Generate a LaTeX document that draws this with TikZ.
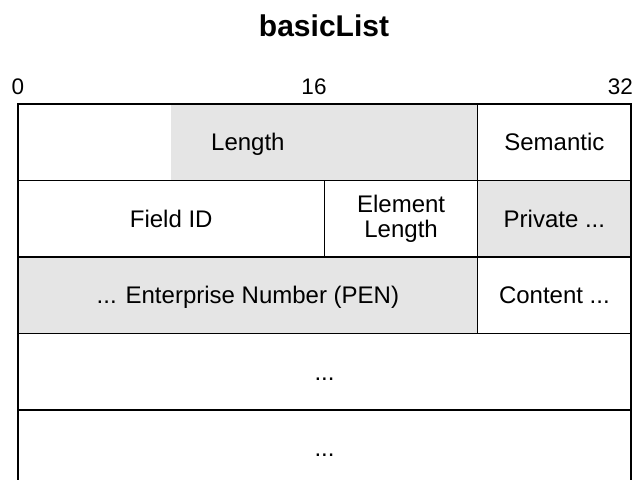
\documentclass[tikz,border=0pt]{standalone}
\usepackage{fontspec}
\setmainfont{Liberation Sans}

\begin{document}
\begin{tikzpicture}[x=1pt,y=-1pt]
\tikzstyle{field}=[rectangle,draw=black,line width=1.4pt,inner sep=0pt,minimum height=76.5pt,font=\fontsize{24}{25}\selectfont,align=center]
\tikzstyle{flat}=[text height=17.2pt,text depth=0pt]
\tikzstyle{shade}=[rectangle,fill=black!10,inner sep=0pt,minimum height=76.5pt]
\tikzstyle{bits}=[font=\fontsize{22.5}{22.5}\selectfont,inner sep=0pt]
\useasboundingbox (0,0) rectangle (636,479);
\clip (0,0) rectangle (636,479);
\node [font=\fontsize{30}{30}\selectfont\bfseries,inner sep=0pt,anchor=base] (title) at (324,36) {basicList};
\node [bits,anchor=base] (b0) at (18,94) {0};
\node [bits,anchor=base] (b16) at (314,94) {16};
\node [bits,anchor=base east] (b32) at (633,94) {32};
\node [shade,minimum width=306.5pt] (lenfill) at (324.5,142.25) {};
\node [field,flat,minimum width=459.75pt] (len) at (247.9,142.25) {Length};
\node [field,flat,minimum width=153.25pt] (sem) at (554.4,142.25) {Semantic};
\node [field,flat,minimum width=306.5pt] (fid) at (171.25,218.75) {Field ID};
\node [field,minimum width=153.25pt] (elen) at (401.1,218.75) {Element\\Length};
\node [field,flat,fill=black!10,minimum width=153.25pt] (priv) at (554.4,218.75) {Private ...};
\node [field,flat,fill=black!10,minimum width=459.75pt] (pen) at (247.9,295.25) {... Enterprise Number (PEN)};
\node [field,flat,minimum width=153.25pt] (cont) at (554.4,295.25) {Content ...};
\node [field,flat,minimum width=613pt] (more1) at (324.5,371.75) {...};
\node [field,flat,minimum width=613pt] (more2) at (324.5,448.25) {...};
\end{tikzpicture}
\end{document}
